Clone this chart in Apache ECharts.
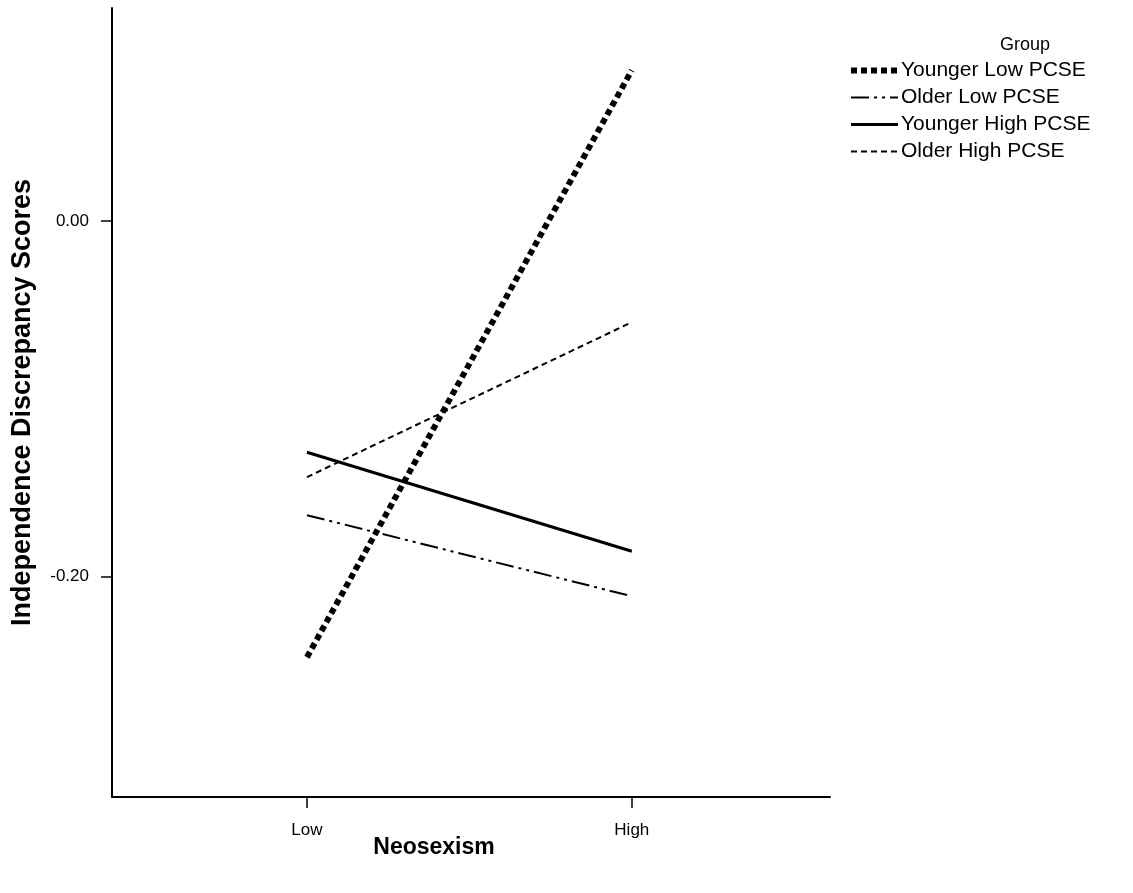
<!DOCTYPE html>
<html>
<head>
<meta charset="utf-8">
<script src="https://cdn.jsdelivr.net/npm/echarts@6/dist/echarts.min.js"></script>
<style>
html,body{margin:0;padding:0;background:#fff;}
#main{width:1133px;height:893px;}
</style>
</head>
<body>
<div id="main"></div>
<script>
// Data
const xCategories = ['Low', 'High'];
const xPositions = [1, 2];
const seriesNames = ['Younger Low PCSE', 'Older Low PCSE', 'Younger High PCSE', 'Older High PCSE'];
const youngerLowPCSE = [-0.2454, 0.085];
const olderLowPCSE = [-0.1654, -0.211];
const youngerHighPCSE = [-0.130, -0.1857];
const olderHighPCSE = [-0.144, -0.0568];
const yTickValues = [0, -0.2];

const seriesValues = [youngerLowPCSE, olderLowPCSE, youngerHighPCSE, olderHighPCSE];
const lineStyles = [
  {width: 6, type: [6, 4], color: '#000'},
  {width: 2, type: [18, 5, 3, 5, 3, 5], color: '#000'},
  {width: 3, type: 'solid', color: '#000'},
  {width: 2, type: [6, 4], color: '#000'}
];

const chart = echarts.init(document.getElementById('main'), null, {renderer: 'canvas'});
const font = 'Liberation Sans, Arial, sans-serif';

const option = {
  animation: false,
  backgroundColor: '#fff',
  textStyle: {fontFamily: font, color: '#000'},
  title: {
    text: 'Group',
    left: 1020, top: 31,
    textAlign: 'center',
    textStyle: {fontFamily: font, fontSize: 18, fontWeight: 'normal', color: '#000'}
  },
  legend: {
    orient: 'vertical',
    left: 848, top: 59,
    padding: 0,
    itemWidth: 47, itemHeight: 14, itemGap: 4,
    itemStyle: {opacity: 0},
    data: seriesNames.map(function (n, i) {
      return {name: n, lineStyle: lineStyles[i], itemStyle: {opacity: 0}};
    }),
    textStyle: {fontFamily: font, fontSize: 21, color: '#000', padding: [0, 0, 0, -2], lineHeight: 23}
  },
  grid: {left: 112, right: 303, top: 8, bottom: 96, containLabel: false},
  xAxis: {
    type: 'value',
    min: 0.4, max: 2.61,
    name: 'Neosexism',
    nameLocation: 'middle',
    nameGap: 39,
    nameMoveOverlap: false,
    nameTextStyle: {fontFamily: font, fontSize: 23, fontWeight: 'bold', color: '#000', padding: [0, 74, 0, 0]},
    axisLine: {onZero: false, lineStyle: {color: '#000', width: 2}},
    axisTick: {show: true, length: 11, lineStyle: {color: '#000', width: 1.5}, customValues: xPositions},
    axisLabel: {
      customValues: xPositions,
      margin: 25,
      fontFamily: font, fontSize: 17, color: '#000',
      formatter: function (v) { const i = xPositions.indexOf(v); return i >= 0 ? xCategories[i] : ''; }
    },
    splitLine: {show: false}
  },
  yAxis: {
    type: 'value',
    min: -0.324, max: 0.12,
    name: 'Independence Discrepancy Scores',
    nameLocation: 'middle',
    nameGap: 76,
    nameMoveOverlap: false,
    nameTextStyle: {fontFamily: font, fontSize: 27, fontWeight: 'bold', color: '#000'},
    axisLine: {show: true, onZero: false, lineStyle: {color: '#000', width: 2}},
    axisTick: {show: true, length: 11, lineStyle: {color: '#000', width: 1.5}, customValues: yTickValues},
    axisLabel: {
      customValues: yTickValues,
      margin: 23,
      fontFamily: font, fontSize: 17, color: '#000',
      formatter: function (v) { return v.toFixed(2); }
    },
    splitLine: {show: false}
  },
  series: seriesNames.map(function (name, i) {
    return {
      name: name,
      type: 'line',
      symbol: 'none',
      data: xPositions.map(function (x, j) { return [x, seriesValues[i][j]]; }),
      lineStyle: lineStyles[i],
      itemStyle: {color: '#000'},
      z: 10 - i
    };
  })
};
chart.setOption(option);
</script>
</body>
</html>
